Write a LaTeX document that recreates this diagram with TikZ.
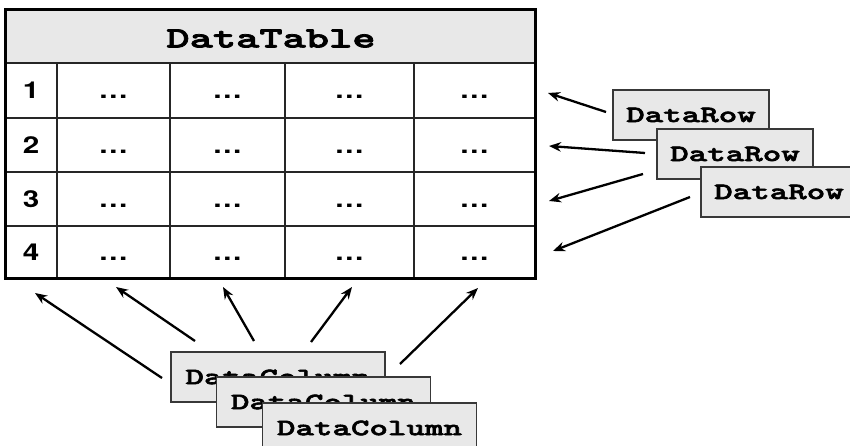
\documentclass[tikz,border=0pt]{standalone}
\usepackage{fontspec}
\newfontfamily\cellfont{texgyreheros-bold.otf}[FakeStretch=1.27]
\newfontfamily\courfont{lmmonolt10-bold.otf}[FakeStretch=1.5, FakeBold=2.5]
\usetikzlibrary{arrows.meta}
\definecolor{boxgray}{HTML}{E8E8E8}
\definecolor{edgegray}{HTML}{383838}
\newcommand\celltxt[1]{{\cellfont\fontsize{23.3}{23.3}\selectfont #1}}
\tikzset{
  outerframe/.style={line width=3pt, draw=black},
  gridline/.style={line width=1.5pt, draw=black!85},
  objbox/.style={draw=edgegray, line width=1.3pt, fill=boxgray, inner sep=0pt,
     minimum height=50pt, font=\courfont\fontsize{23.5}{23.5}\selectfont},
  rowbox/.style={objbox, minimum width=156pt},
  colbox/.style={objbox, minimum width=214pt},
  celltext/.style={anchor=base, inner sep=0pt},
  arr/.style={-{Stealth[length=12pt,width=9.5pt]}, line width=2.3pt, draw=black},
}
\begin{document}
\begin{tikzpicture}[x=1pt,y=-1pt]
\useasboundingbox (0,0) rectangle (850,446);
% table
\fill[boxgray] (5,10) rectangle (535,63);
\foreach \yy in {63,118,172,226} \draw[gridline] (5,\yy) -- (535,\yy);
\foreach \xx in {57,170,285,414} \draw[gridline] (\xx,63) -- (\xx,278);
\draw[outerframe] (5,10) rectangle (535,278);
\node[font=\courfont\fontsize{29.5}{29.5}\selectfont, inner sep=0pt] (title) at (271,38.5) {DataTable};
\foreach \rr/\cy in {1/99,2/153.3,3/207.3,4/260.3} {
  \node[celltext] (r\rr) at (31,\cy) {\celltxt{\rr}};
  \foreach \cc/\cx in {1/113.5,2/227.5,3/349.5,4/474.5}
    \node[celltext] (c\rr\cc) at (\cx,\cy) {\celltxt{…}};
}
% arrow end points
\coordinate (ra1s) at (606,112); \coordinate (ra1t) at (548,93);
\coordinate (ra2s) at (645,153); \coordinate (ra2t) at (549,146);
\coordinate (ra3s) at (643,174); \coordinate (ra3t) at (549,201);
\coordinate (ra4s) at (690,197); \coordinate (ra4t) at (553,251);
\coordinate (ca1s) at (162,378); \coordinate (ca1t) at (35,293);
\coordinate (ca2s) at (195,341); \coordinate (ca2t) at (116,287);
\coordinate (ca3s) at (254,341); \coordinate (ca3t) at (223,287);
\coordinate (ca4s) at (311,342); \coordinate (ca4t) at (352,287);
\coordinate (ca5s) at (400,364); \coordinate (ca5t) at (478,288);
\foreach \k in {1,2,3,4} \draw[arr] (ra\k s) -- (ra\k t);
\foreach \k in {1,2,3,4,5} \draw[arr] (ca\k s) -- (ca\k t);
% DataRow boxes
\node[rowbox] (row1) at (691,115) {DataRow};
\node[rowbox] (row2) at (735,154) {DataRow};
\node[rowbox] (row3) at (779,192) {DataRow};
% DataColumn boxes
\node[colbox] (col1) at (278,377) {DataColumn};
\node[colbox] (col2) at (323.5,402) {DataColumn};
\node[colbox] (col3) at (369.5,428) {DataColumn};
\end{tikzpicture}
\end{document}
